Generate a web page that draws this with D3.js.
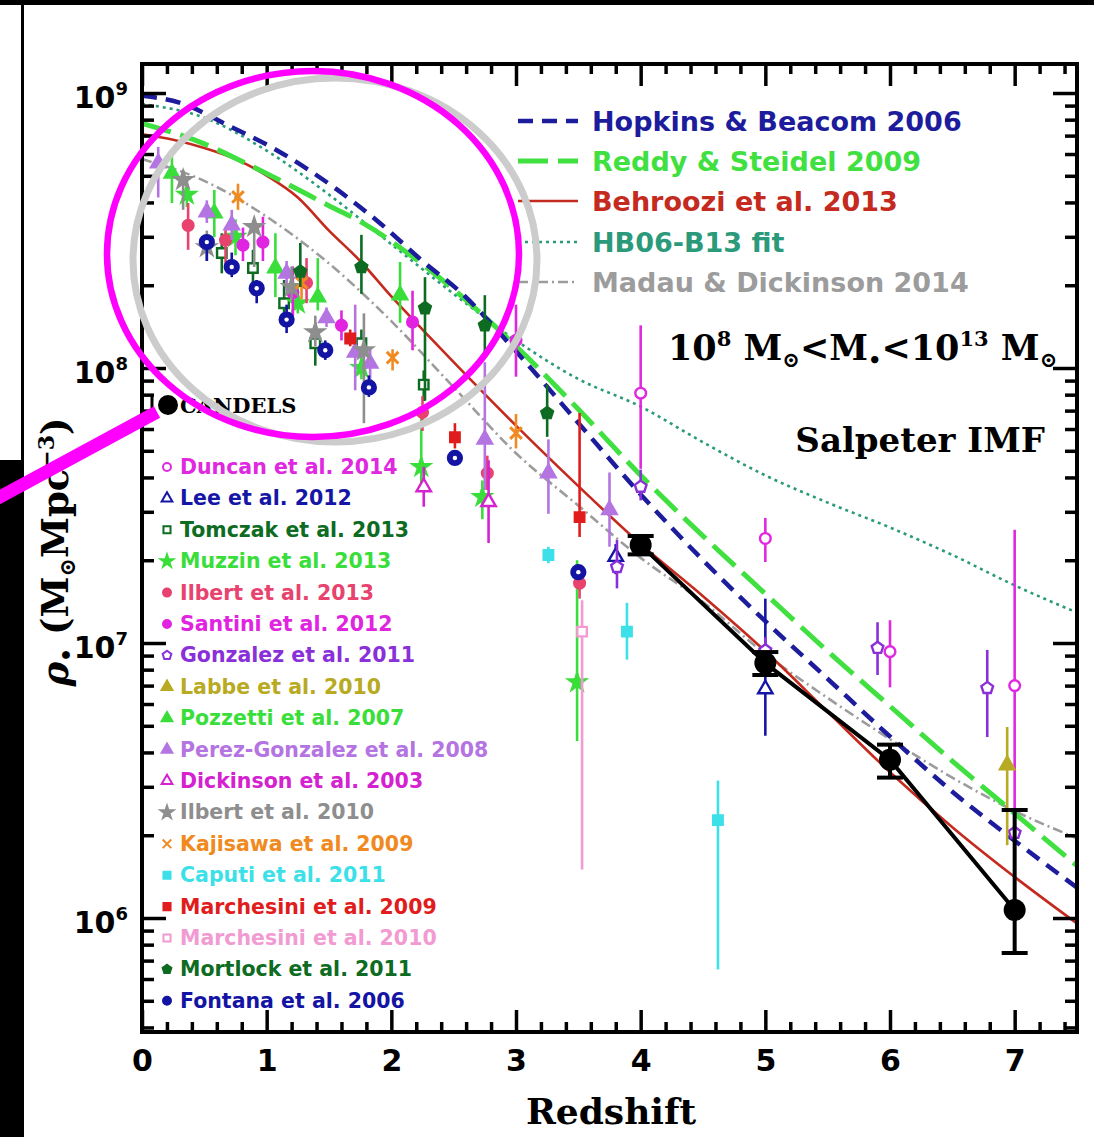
<!DOCTYPE html>
<html><head><meta charset="utf-8">
<script src="https://cdn.jsdelivr.net/npm/d3@7"></script>
<style>body{margin:0;background:#fff}</style>
</head><body>
<svg id="c" width="1094" height="1137"></svg>
<script>
// ---------- axis values ----------
const xTicks = [0, 1, 2, 3, 4, 5, 6, 7];
const xDomain = [0, 7.5];
const yTickExps = [6, 7, 8, 9];
const yDomain = [3.85e5, 1.275e9];

// ---------- model curves [z, rho*] ----------
const hopkins2006 = [[0,9.77e8],[0.3,9.23e8],[0.7,7.59e8],[1.05,6.31e8],[1.56,4.47e8],[1.9,3.39e8],[2.25,2.45e8],[2.57,1.86e8],[3.0,1.15e8],[3.5,6.31e7],[4.0,3.47e7],[4.5,2.0e7],[5.0,1.2e7],[5.5,7.41e6],[6.0,4.57e6],[6.5,2.88e6],[7.0,1.91e6],[7.5,1.29e6]];
const reddy2009 = [[0,7.76e8],[0.5,6.53e8],[0.83,5.56e8],[1.15,4.71e8],[1.5,3.89e8],[1.77,3.37e8],[2.13,2.62e8],[2.53,1.88e8],[3.0,1.2e8],[3.5,7.08e7],[4.0,4.07e7],[4.5,2.45e7],[5.0,1.51e7],[5.5,9.33e6],[6.0,5.89e6],[6.5,3.72e6],[7.0,2.4e6],[7.5,1.55e6]];
const behroozi2013 = [[0,7.08e8],[0.25,6.76e8],[0.5,6.31e8],[0.75,5.75e8],[1.0,5.01e8],[1.25,4.17e8],[1.5,3.16e8],[1.75,2.45e8],[2.0,1.82e8],[2.25,1.38e8],[2.5,1.05e8],[3.0,6.17e7],[3.5,3.72e7],[4.0,2.29e7],[4.5,1.48e7],[5.0,9.33e6],[5.5,5.62e6],[6.0,3.39e6],[6.5,2.14e6],[7.0,1.41e6],[7.5,9.55e5]];
const hb06b13Fit = [[0,9.12e8],[0.5,8.13e8],[1.0,6.17e8],[1.5,4.27e8],[2.0,2.82e8],[2.5,1.86e8],[3.0,1.26e8],[3.5,9.12e7],[4.0,7.24e7],[4.5,5.37e7],[5.0,4.07e7],[5.5,3.24e7],[6.0,2.63e7],[6.5,2.09e7],[7.0,1.62e7],[7.5,1.29e7]];
const madau2014 = [[0,5.75e8],[0.5,4.79e8],[1.0,3.55e8],[1.5,2.4e8],[2.0,1.48e8],[2.5,8.51e7],[3.0,4.9e7],[3.5,3.16e7],[4.0,2.04e7],[4.5,1.41e7],[5.0,9.12e6],[5.5,6.31e6],[6.0,4.47e6],[6.5,3.24e6],[7.0,2.45e6],[7.5,1.95e6]];

// ---------- observations [z, rho*, low, high] ----------
const duncan2014 = [[4.0,8.1e7,4.3e7,1.43e8],[5.0,2.4e7,1.97e7,2.85e7],[6.0,9.3e6,6.9e6,1.21e7],[7.0,7.0e6,1.04e6,2.58e7]];
const lee2012 = [[3.8,2.06e7,1.78e7,2.29e7],[5.0,6.8e6,4.6e6,1.45e7]];
const tomczak2013 = [[0.64,2.62e8,2.21e8,3.09e8],[0.89,2.31e8,2.0e8,2.69e8],[1.14,1.72e8,1.41e8,2.09e8],[1.39,1.23e8,1.02e8,1.46e8],[1.76,1.23e8,1.12e8,1.38e8],[2.26,8.7e7,7.6e7,9.8e7]];
const muzzin2013 = [[0.36,4.27e8,3.85e8,4.95e8],[0.75,3.0e8,2.57e8,3.47e8],[1.25,1.72e8,1.58e8,1.97e8],[1.76,1.0e8,9.1e7,1.12e8],[2.24,4.37e7,3.55e7,6.8e7],[2.73,3.4e7,2.82e7,3.9e7],[3.49,7.2e6,4.4e6,2.0e7]];
const ilbert2013 = [[0.37,3.3e8,2.69e8,3.98e8],[0.67,2.92e8,2.34e8,3.24e8],[1.32,2.04e8,1.72e8,2.51e8],[2.25,6.9e7,5.9e7,7.9e7],[2.77,4.15e7,3.6e7,4.8e7],[3.51,1.65e7,1.45e7,1.86e7]];
const santini2012 = [[0.81,2.8e8,2.45e8,3.24e8],[0.97,2.87e8,2.45e8,3.55e8],[1.21,1.88e8,1.55e8,2.34e8],[1.6,1.43e8,1.26e8,1.62e8],[2.17,1.47e8,1.16e8,1.91e8],[3.0,1.26e8,9.3e7,1.7e8]];
const gonzalez2011 = [[3.81,1.89e7,1.58e7,2.37e7],[4.0,3.7e7,3.3e7,4.27e7],[5.0,9.4e6,8.5e6,1.05e7],[5.9,9.6e6,7.65e6,1.19e7],[6.78,6.86e6,4.55e6,9.44e6],[7.0,2.04e6,7.5e5,2.45e6]];
const labbe2010 = [[6.94,3.6e6,1.84e6,4.95e6]];
const pozzetti2007 = [[0.24,5.1e8,3.98e8,5.96e8],[0.58,3.66e8,2.99e8,4.44e8],[1.07,2.31e8,1.81e8,3.09e8],[1.41,1.81e8,1.62e8,2.51e8],[2.07,1.84e8,1.46e8,2.43e8]];
const perezGonzalez2008 = [[0.13,5.56e8,4.17e8,6.37e8],[0.52,3.69e8,3.37e8,4.07e8],[0.72,3.31e8,2.92e8,3.76e8],[1.16,2.21e8,1.91e8,2.45e8],[1.48,1.52e8,1.41e8,1.66e8],[1.71,1.14e8,8.3e7,1.7e8],[1.83,1.04e8,9.0e7,1.19e8],[2.75,5.5e7,3.6e7,1.05e8],[3.26,4.15e7,2.95e7,5.5e7],[3.75,3.05e7,2.24e7,4.17e7]];
const dickinson2003 = [[2.26,3.69e7,3.13e7,4.37e7],[2.78,3.26e7,2.31e7,4.62e7]];
const ilbert2010 = [[0.33,4.83e8,3.76e8,5.25e8],[0.52,2.75e8,2.45e8,3.16e8],[0.9,3.26e8,2.33e8,3.47e8],[1.2,1.97e8,1.78e8,2.34e8],[1.39,1.35e8,1.2e8,1.55e8],[1.78,1.16e8,6.3e7,1.58e8]];
const kajisawa2009 = [[0.77,4.19e8,3.76e8,4.68e8],[1.28,2.04e8,1.78e8,2.29e8],[2.01,1.09e8,9.8e7,1.17e8],[3.0,5.8e7,5.1e7,6.8e7]];
const caputi2011 = [[3.26,2.09e7,1.95e7,2.24e7],[3.89,1.1e7,8.7e6,1.4e7],[4.62,2.27e6,6.5e5,3.16e6]];
const marchesini2009 = [[1.67,1.28e8,1.2e8,1.38e8],[2.51,5.6e7,5.1e7,6.3e7],[3.51,2.87e7,2.43e7,6.86e7]];
const marchesini2010 = [[3.53,1.1e7,1.5e6,1.43e7]];
const mortlock2011 = [[1.27,2.24e8,1.97e8,2.85e8],[1.76,2.33e8,1.86e8,3.05e8],[2.27,1.65e8,7.6e7,2.14e8],[2.75,1.43e8,1.09e8,1.84e8],[3.25,6.86e7,5.62e7,8.7e7]];
const fontana2006 = [[0.52,2.87e8,2.45e8,3.02e8],[0.72,2.33e8,2.14e8,2.63e8],[0.92,1.95e8,1.72e8,2.09e8],[1.16,1.5e8,1.34e8,1.7e8],[1.47,1.16e8,1.07e8,1.26e8],[1.82,8.5e7,7.85e7,9.4e7],[2.51,4.71e7,4.44e7,5.0e7],[3.5,1.81e7,1.7e7,1.9e7]];
const candels = [[4,2.27e7,2.1e7,2.45e7],[5,8.45e6,7.65e6,9.27e6],[6,3.76e6,3.24e6,4.27e6],[7,1.07e6,7.46e5,2.47e6]];

// ---------- styles ----------
const pentagon = {draw(ctx, size){const r=Math.sqrt(size/2.3776);for(let i=0;i<5;i++){const a=-Math.PI/2+i*2*Math.PI/5;const px=r*Math.cos(a),py=r*Math.sin(a);i?ctx.lineTo(px,py):ctx.moveTo(px,py);}ctx.closePath();}};
const timesSym = d3.symbolTimes || d3.symbolX || d3.symbolCross;

const sources = [
  {name:"Duncan et al. 2014", data:duncan2014, color:"#e028e0", sym:d3.symbolCircle, open:true},
  {name:"Lee et al. 2012", data:lee2012, color:"#1616a6", sym:d3.symbolTriangle, open:true},
  {name:"Tomczak et al. 2013", data:tomczak2013, color:"#0d6b22", sym:d3.symbolSquare, open:true},
  {name:"Muzzin et al. 2013", data:muzzin2013, color:"#3ade3a", sym:d3.symbolStar, open:false},
  {name:"Ilbert et al. 2013", data:ilbert2013, color:"#e8426e", sym:d3.symbolCircle, open:false},
  {name:"Santini et al. 2012", data:santini2012, color:"#e024e0", sym:d3.symbolCircle, open:false},
  {name:"Gonzalez et al. 2011", data:gonzalez2011, color:"#8a30d8", sym:pentagon, open:true},
  {name:"Labbe et al. 2010", data:labbe2010, color:"#b8aa22", sym:d3.symbolTriangle, open:false},
  {name:"Pozzetti et al. 2007", data:pozzetti2007, color:"#3ade3a", sym:d3.symbolTriangle, open:false},
  {name:"Perez-Gonzalez et al. 2008", data:perezGonzalez2008, color:"#b474e2", sym:d3.symbolTriangle, open:false},
  {name:"Dickinson et al. 2003", data:dickinson2003, color:"#d422d0", sym:d3.symbolTriangle, open:true},
  {name:"Ilbert et al. 2010", data:ilbert2010, color:"#8e8e8e", sym:d3.symbolStar, open:false},
  {name:"Kajisawa et al. 2009", data:kajisawa2009, color:"#f08a20", sym:timesSym, open:true, stroke:true},
  {name:"Caputi et al. 2011", data:caputi2011, color:"#3ce0e8", sym:d3.symbolSquare, open:false},
  {name:"Marchesini et al. 2009", data:marchesini2009, color:"#e01c1c", sym:d3.symbolSquare, open:false},
  {name:"Marchesini et al. 2010", data:marchesini2010, color:"#f29ad2", sym:d3.symbolSquare, open:true},
  {name:"Mortlock et al. 2011", data:mortlock2011, color:"#0d6b22", sym:pentagon, open:false},
  {name:"Fontana et al. 2006", data:fontana2006, color:"#1414a4", sym:d3.symbolCircle, open:false, big:true}
];

const curves = [
  {name:"Hopkins & Beacom 2006", data:hopkins2006, color:"#1c1c9c", width:4.5, dash:"15,9"},
  {name:"Reddy & Steidel 2009", data:reddy2009, color:"#3fe03f", width:5, dash:"30,10"},
  {name:"Behroozi et al. 2013", data:behroozi2013, color:"#c42a1e", width:2.6, dash:null},
  {name:"HB06-B13 fit", data:hb06b13Fit, color:"#2a9a7a", width:2.6, dash:"3,4"},
  {name:"Madau & Dickinson 2014", data:madau2014, color:"#9c9c9c", width:2.6, dash:"10,4,2,4"}
];

// ---------- drawing ----------
const svg = d3.select("#c");
const P = {l:142, r:1077, t:64, b:1032};
const x = d3.scaleLinear().domain(xDomain).range([P.l, P.r]);
const y = d3.scaleLog().domain(yDomain).range([P.b, P.t]);

svg.append("rect").attr("width",1094).attr("height",1137).attr("fill","#fff");
svg.append("defs").append("clipPath").attr("id","clip").append("rect")
  .attr("x",P.l).attr("y",P.t).attr("width",P.r-P.l).attr("height",P.b-P.t);

// curves
const line = d3.line().x(d=>x(d[0])).y(d=>y(d[1])).curve(d3.curveMonotoneX);
const gc = svg.append("g").attr("clip-path","url(#clip)");
curves.slice().reverse().forEach(c=>{
  gc.append("path").attr("d",line(c.data)).attr("fill","none")
    .attr("stroke",c.color).attr("stroke-width",c.width)
    .attr("stroke-dasharray",c.dash);
});

// observations
const gd = svg.append("g");
sources.forEach(s=>{
  const g = gd.append("g");
  g.selectAll("line").data(s.data).enter().append("line")
    .attr("x1",d=>x(d[0])).attr("x2",d=>x(d[0]))
    .attr("y1",d=>y(d[2])).attr("y2",d=>y(d[3]))
    .attr("stroke",s.color).attr("stroke-width",2.6);
  g.selectAll("path").data(s.data).enter().append("path")
    .attr("transform",d=>`translate(${x(d[0])},${y(d[1])})`)
    .attr("d",d3.symbol().type(s.sym).size(s.big?150:90))
    .attr("fill",s.stroke?"none":(s.open?"#fff":s.color))
    .attr("stroke",s.color).attr("stroke-width",s.stroke?3:2.4);
});
// Fontana inner marks
gd.append("g").selectAll("circle").data(fontana2006).enter().append("circle")
  .attr("cx",d=>x(d[0])).attr("cy",d=>y(d[1])).attr("r",2.2).attr("fill","#fff");

// CANDELS
const gk = svg.append("g");
gk.append("path").attr("d",d3.line().x(d=>x(d[0])).y(d=>y(d[1]))(candels))
  .attr("fill","none").attr("stroke","#000").attr("stroke-width",4);
candels.forEach(d=>{
  const cx=x(d[0]);
  gk.append("line").attr("x1",cx).attr("x2",cx).attr("y1",y(d[2])).attr("y2",y(d[3])).attr("stroke","#000").attr("stroke-width",4);
  [d[2],d[3]].forEach(v=>gk.append("line").attr("x1",cx-13).attr("x2",cx+13).attr("y1",y(v)).attr("y2",y(v)).attr("stroke","#000").attr("stroke-width",4));
  gk.append("circle").attr("cx",cx).attr("cy",y(d[1])).attr("r",11).attr("fill","#000");
});

// axes (inward ticks)
const xMinor = d3.range(0, 7.51, 0.2).filter(v=>Math.abs(v-Math.round(v))>1e-6);
const yMajor = yTickExps.map(e=>Math.pow(10,e));
const yMinor = [];
for(let e=5;e<=9;e++) for(let m=2;m<=9;m++){const v=m*Math.pow(10,e); if(v>yDomain[0]&&v<yDomain[1]) yMinor.push(v);}
function axisG(axis, tx, ty){
  const g = svg.append("g").attr("transform",`translate(${tx},${ty})`).call(axis);
  g.select(".domain").remove();
  g.selectAll(".tick line").attr("stroke","#000").attr("stroke-width",3.5);
  return g;
}
const xb = axisG(d3.axisBottom(x).tickValues(xTicks).tickSize(-22).tickSizeOuter(0).tickPadding(18), 0, P.b);
xb.selectAll("text").attr("font-family","DejaVu Sans").attr("font-weight","bold").attr("font-size",30).attr("fill","#000");
axisG(d3.axisBottom(x).tickValues(xMinor).tickSize(-10).tickSizeOuter(0).tickFormat(""), 0, P.b);
axisG(d3.axisTop(x).tickValues(xTicks).tickSize(-22).tickSizeOuter(0).tickFormat(""), 0, P.t);
axisG(d3.axisTop(x).tickValues(xMinor).tickSize(-10).tickSizeOuter(0).tickFormat(""), 0, P.t);
axisG(d3.axisLeft(y).tickValues(yMajor).tickSize(-24).tickSizeOuter(0).tickFormat(""), P.l, 0);
axisG(d3.axisLeft(y).tickValues(yMinor).tickSize(-12).tickSizeOuter(0).tickFormat(""), P.l, 0);
axisG(d3.axisRight(y).tickValues(yMajor).tickSize(-24).tickSizeOuter(0).tickFormat(""), P.r, 0);
axisG(d3.axisRight(y).tickValues(yMinor).tickSize(-12).tickSizeOuter(0).tickFormat(""), P.r, 0);
svg.append("rect").attr("x",P.l).attr("y",P.t).attr("width",P.r-P.l).attr("height",P.b-P.t)
  .attr("fill","none").attr("stroke","#000").attr("stroke-width",4);

// y tick labels
yTickExps.forEach(e=>{
  const t = svg.append("text").attr("x",128).attr("y",y(Math.pow(10,e))+15).attr("text-anchor","end")
    .attr("font-family","DejaVu Sans").attr("font-weight","bold").attr("font-size",30).attr("fill","#000");
  t.append("tspan").text("10");
  t.append("tspan").attr("dy",-13).attr("font-size",18).text(String(e));
});

// axis titles
svg.append("text").attr("x",611).attr("y",1124).attr("text-anchor","middle")
  .attr("font-family","DejaVu Serif").attr("font-weight","bold").attr("font-size",36).text("Redshift");
const yt = svg.append("text").attr("transform","translate(68,552) rotate(-90)").attr("text-anchor","middle")
  .attr("font-family","DejaVu Serif").attr("font-weight","bold").attr("font-size",37).attr("fill","#000");
yt.append("tspan").attr("font-style","italic").text("ρ");
yt.append("tspan").attr("font-size",22).attr("dy",6).text("•");
yt.append("tspan").attr("dy",-6).text(" (M");
yt.append("tspan").attr("font-size",22).attr("dy",7).text("⊙");
yt.append("tspan").attr("dy",-7).text("Mpc");
yt.append("tspan").attr("font-size",22).attr("dy",-14).text("−3");
yt.append("tspan").attr("dy",14).text(")");

// curve legend
const legRows = [121,161,201,242,282];
curves.forEach((c,i)=>{
  svg.append("line").attr("x1",518).attr("x2",578).attr("y1",legRows[i]).attr("y2",legRows[i])
    .attr("stroke",c.color).attr("stroke-width",c.width).attr("stroke-dasharray",c.dash);
  svg.append("text").attr("x",592).attr("y",legRows[i]).attr("dominant-baseline","central")
    .attr("font-family","DejaVu Sans").attr("font-weight","bold").attr("font-size",27).attr("fill",c.color).text(c.name);
});

// annotations
const a1 = svg.append("text").attr("x",668).attr("y",360)
  .attr("font-family","DejaVu Serif").attr("font-weight","bold").attr("font-size",35).attr("fill","#000");
a1.append("tspan").text("10");
a1.append("tspan").attr("font-size",21).attr("dy",-14).text("8");
a1.append("tspan").attr("dy",14).text(" M");
a1.append("tspan").attr("font-size",21).attr("dy",7).text("⊙");
a1.append("tspan").attr("dy",-7).text("<M");
a1.append("tspan").attr("font-size",21).attr("dy",7).text("•");
a1.append("tspan").attr("dy",-7).text("<10");
a1.append("tspan").attr("font-size",21).attr("dy",-14).text("13");
a1.append("tspan").attr("dy",14).text(" M");
a1.append("tspan").attr("font-size",21).attr("dy",7).text("⊙");
svg.append("text").attr("x",1045).attr("y",452).attr("text-anchor","end")
  .attr("font-family","DejaVu Serif").attr("font-weight","bold").attr("font-size",34).attr("fill","#000").text("Salpeter IMF");

// CANDELS key
svg.append("line").attr("x1",152).attr("x2",152).attr("y1",395).attr("y2",415).attr("stroke","#000").attr("stroke-width",3);
svg.append("circle").attr("cx",168).attr("cy",405).attr("r",10).attr("fill","#000");
svg.append("text").attr("x",180).attr("y",405).attr("dominant-baseline","central")
  .attr("font-family","DejaVu Serif").attr("font-weight","bold").attr("font-size",21).text("CANDELS");

// source legend
sources.forEach((s,i)=>{
  const yy = 467 + i*31.4;
  svg.append("path").attr("transform",`translate(167,${yy})`)
    .attr("d",d3.symbol().type(s.sym).size(50))
    .attr("fill",s.stroke?"none":(s.open?"#fff":s.color)).attr("stroke",s.color).attr("stroke-width",2);
  svg.append("text").attr("x",180).attr("y",yy).attr("dominant-baseline","central")
    .attr("font-family","DejaVu Sans").attr("font-weight","bold").attr("font-size",20.5)
    .attr("fill",s.color).text(s.name);
});

// frame strips of the screenshot
svg.append("rect").attr("x",0).attr("y",0).attr("width",1094).attr("height",5).attr("fill","#000");
svg.append("rect").attr("x",21).attr("y",0).attr("width",3).attr("height",460).attr("fill","#000");
svg.append("rect").attr("x",0).attr("y",460).attr("width",24).attr("height",677).attr("fill","#000");

// highlight overlay
svg.append("ellipse").attr("cx",335).attr("cy",260).attr("rx",202).attr("ry",182)
  .attr("fill","none").attr("stroke","#cccccc").attr("stroke-width",7);
svg.append("ellipse").attr("cx",313).attr("cy",254).attr("rx",206).attr("ry",183)
  .attr("fill","none").attr("stroke","#ff00ff").attr("stroke-width",6.5);
svg.append("line").attr("x1",-4).attr("y1",499).attr("x2",157).attr("y2",412)
  .attr("stroke","#ff00ff").attr("stroke-width",13);
</script>
</body></html>
